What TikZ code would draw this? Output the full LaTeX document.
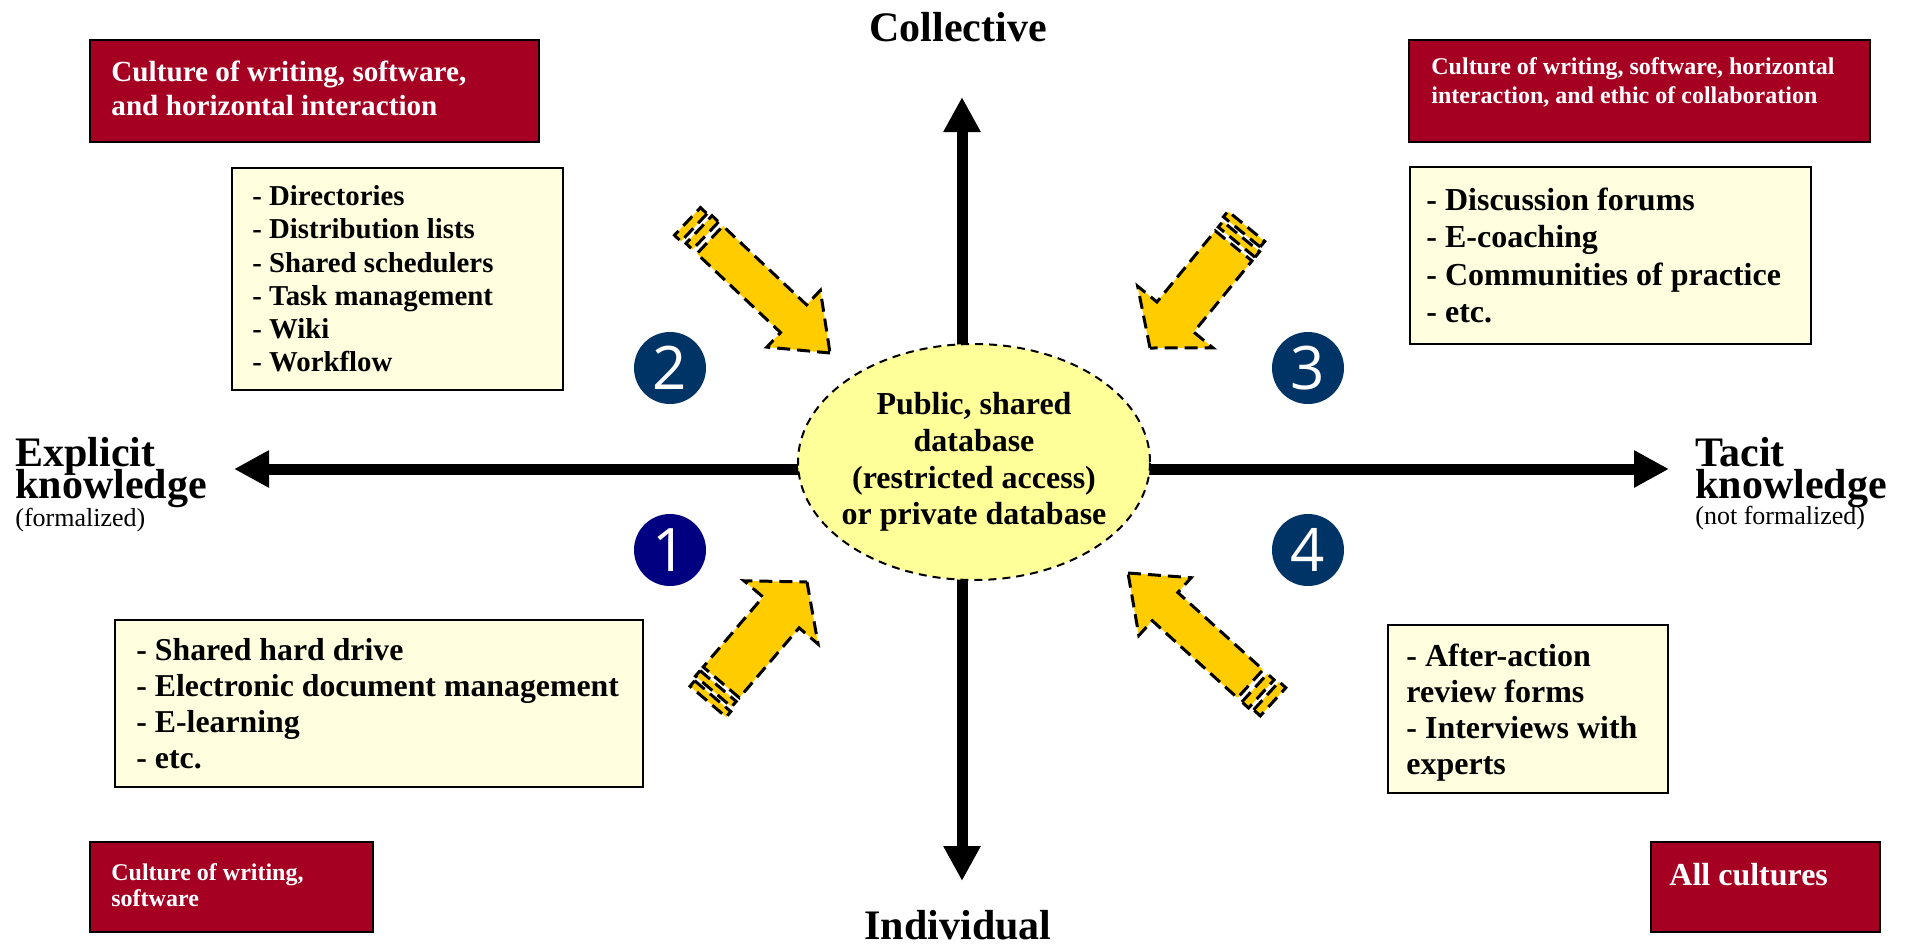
\documentclass[tikz,border=0pt]{standalone}
\usepackage{fontspec}
\setmainfont{Liberation Serif}
\newfontfamily\numfont{Open Sans}
\usepackage{tikz}
\usetikzlibrary{arrows.meta,shapes.geometric,positioning,calc}

\definecolor{cultred}{RGB}{165,0,33}
\definecolor{itemyellow}{RGB}{255,255,224}
\definecolor{dbyellow}{RGB}{255,255,153}
\definecolor{arrowgold}{RGB}{255,204,0}
\definecolor{numblue}{RGB}{0,51,102}
\definecolor{numnavy}{RGB}{0,0,128}

% block arrow with two loose stripes at the tail: tip x, tip y, angle, length scale, width scale
\newcommand{\tailarrow}[5]{%
	\begin{scope}[shift={(#1,#2)}, rotate=#3, xscale=#4, yscale=#5]
		\draw[blockarrow] (0,0) -- (-50,39) -- (-50,19) -- (-165,19) -- (-165,-19) -- (-50,-19) -- (-50,-39) -- cycle;
		\draw[blockarrow] (-171,-19) rectangle (-180,19);
		\draw[blockarrow] (-185,-17) rectangle (-194,21);
	\end{scope}}

\begin{document}
\begin{tikzpicture}[x=0.5pt, y=-0.5pt,
		cultbox/.style={draw=black, line width=0.8pt, fill=cultred, inner sep=0pt},
		culttext/.style n args={2}{text=white, font=\fontsize{#1}{#2}\selectfont\bfseries, align=left, inner sep=0pt},
		itembox/.style={draw=black, line width=1pt, fill=itemyellow, inner sep=0pt},
		itemtext/.style n args={2}{font=\fontsize{#1}{#2}\selectfont\bfseries, align=left, inner sep=0pt},
		numdot/.style={circle, fill=numblue, text=white, minimum size=36pt, inner sep=0pt, font=\numfont\fontsize{30}{30}\selectfont},
		axis/.style={line width=5.5pt, -{Triangle[length=17.5pt,width=17.5pt]}},
		axislabel/.style={font=\fontsize{21}{21}\selectfont\bfseries, inner sep=0pt},
		sublabel/.style={font=\fontsize{13}{13}\selectfont, inner sep=0pt},
		blockarrow/.style={draw=black, fill=arrowgold, line width=1.5pt, dash pattern=on 6.5pt off 3.5pt, line join=miter},
		dbnode/.style={ellipse, draw=black, line width=1pt, dash pattern=on 4pt off 3pt, fill=dbyellow, minimum width=176pt, minimum height=118pt, inner sep=0pt},
		dbtext/.style={align=center, inner sep=0pt, font=\fontsize{16}{18.3}\selectfont\bfseries}]
	\useasboundingbox (0,0) rectangle (1913,948);

	% axes
	\coordinate (centre) at (962,469);
	\coordinate (westTip) at (234,469);
	\coordinate (eastTip) at (1669,469);
	\coordinate (northTip) at (962,97);
	\coordinate (southTip) at (962,881);
	\draw[axis] (centre) -- (westTip);
	\draw[axis] (centre) -- (eastTip);
	\draw[axis] (centre) -- (northTip);
	\draw[axis] (centre) -- (southTip);

	\node[dbnode] (db) at (974,462) {};
	\node[dbtext] (dbLabel) at (db.center) {Public, shared\\database\\(restricted access)\\or private database};

	\node[axislabel, anchor=base] (collective) at (958,41) {Collective};
	\node[axislabel, anchor=base] (individual) at (958,939) {Individual};
	\node[axislabel, anchor=base west] (explicitA) at (15,466) {Explicit};
	\node[axislabel, anchor=base west] (explicitB) at (15,498) {knowledge};
	\node[sublabel, anchor=base west] (explicitC) at (15,526) {(formalized)};
	\node[axislabel, anchor=base west] (tacitA) at (1695,466) {Tacit};
	\node[axislabel, anchor=base west] (tacitB) at (1695,498) {knowledge};
	\node[sublabel, anchor=base west] (tacitC) at (1695,524) {(not formalized)};

	% quadrant numbers
	\node[numdot, fill=numnavy] (q1) at (670,550) {1};
	\node[numdot] (q2) at (670,368) {2};
	\node[numdot] (q3) at (1308,368) {3};
	\node[numdot] (q4) at (1308,550) {4};

	% arrows towards the database
	\tailarrow{830}{353}{-43.3}{1}{1}
	\tailarrow{1150}{348}{-129.3}{0.8}{1.25}
	\tailarrow{807}{582}{49.5}{0.8}{1.25}
	\tailarrow{1128}{573}{137.8}{1}{1}

	% cultures
	\node[cultbox, minimum width=224.5pt, minimum height=51pt] (cultTL) at (314.5,91) {};
	\node[culttext={14.6}{17}, anchor=west] (cultTLtext) at (111,88) {Culture of writing, software,\\and horizontal interaction};
	\node[cultbox, minimum width=230.5pt, minimum height=51pt] (cultTR) at (1639.5,91) {};
	\node[culttext={12}{14.5}, anchor=west] (cultTRtext) at (1431,82) {Culture of writing, software, horizontal\\interaction, and ethic of collaboration};
	\node[cultbox, minimum width=141.5pt, minimum height=45pt] (cultBL) at (231.5,887) {};
	\node[culttext={12}{13}, anchor=west] (cultBLtext) at (111,885) {Culture of writing,\\software};
	\node[cultbox, minimum width=114.5pt, minimum height=45pt] (cultBR) at (1765.5,887) {};
	\node[culttext={16}{18}, anchor=west] (cultBRtext) at (1669,875) {All cultures};

	% tools
	\node[itembox, minimum width=165.5pt, minimum height=111pt] (toolsTL) at (397.5,279) {};
	\node[itemtext={14.4}{16.6}, anchor=west] (toolsTLtext) at ([xshift=10.5pt]toolsTL.west) {- Directories\\- Distribution lists\\- Shared schedulers\\- Task management\\- Wiki\\- Workflow};
	\node[itembox, minimum width=200.5pt, minimum height=88.5pt] (toolsTR) at (1610.5,255.5) {};
	\node[itemtext={16}{18.7}, anchor=west] (toolsTRtext) at ([xshift=8.5pt]toolsTR.west) {- Discussion forums\\- E-coaching\\- Communities of practice\\- etc.};
	\node[itembox, minimum width=264pt, minimum height=83.5pt] (toolsBL) at (379,703.5) {};
	\node[itemtext={15.9}{18}, anchor=west] (toolsBLtext) at ([xshift=11pt]toolsBL.west) {- Shared hard drive\\- Electronic document management\\- E-learning\\- etc.};
	\node[itembox, minimum width=140pt, minimum height=84pt] (toolsBR) at (1528,709) {};
	\node[itemtext={16}{18}, anchor=west] (toolsBRtext) at ([xshift=9.5pt,yshift=-2pt]toolsBR.west) {- After-action\\review forms\\- Interviews with\\experts};
\end{tikzpicture}
\end{document}
